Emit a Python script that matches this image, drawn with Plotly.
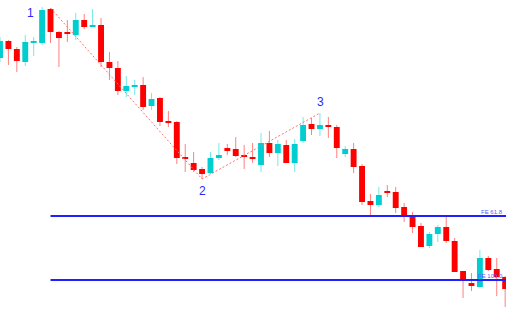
import plotly.graph_objects as go

# OHLC data (arbitrary price units)
opens  = [255, 272, 264, 251, 270, 270, 304, 281, 281, 278, 293, 286, 288, 251, 245, 222, 226, 228, 207, 215,
          192, 191, 156, 150, 144, 140, 155, 165, 164, 158, 156, 148, 170, 160, 168, 150, 172, 189, 184, 188,
          186, 159, 164, 147, 112, 108, 122, 121, 106, 97, 87, 67, 79, 86, 72, 42, 30, 26, 55, 44, 36]
highs  = [276, 273, 266, 278, 276, 306, 305, 282, 293, 300, 299, 304, 295, 261, 252, 237, 233, 236, 220, 216,
          202, 192, 169, 161, 146, 161, 170, 169, 176, 168, 170, 180, 182, 173, 173, 174, 196, 195, 200, 196,
          188, 167, 170, 149, 119, 126, 128, 126, 110, 101, 90, 81, 88, 96, 75, 42, 40, 63, 57, 55, 37]
lows   = [251, 248, 241, 247, 257, 268, 270, 246, 271, 273, 284, 286, 246, 233, 218, 216, 218, 203, 203, 187,
          186, 149, 141, 141, 134, 139, 153, 158, 156, 144, 150, 141, 156, 147, 150, 141, 170, 178, 177, 175,
          155, 156, 140, 108, 97, 106, 116, 100, 91, 80, 66, 65, 71, 70, 41, 15, 22, 26, 42, 17, 6]
closes = [272, 264, 252, 271, 272, 303, 281, 275, 279, 293, 286, 288, 251, 245, 222, 227, 228, 206, 214, 191,
          190, 155, 154, 143, 139, 155, 158, 162, 157, 156, 154, 170, 160, 169, 150, 169, 188, 184, 188, 186,
          165, 164, 146, 111, 108, 118, 120, 105, 97, 86, 66, 79, 86, 72, 41, 34, 27, 55, 43, 36, 24]

swing_x = [6, 24, 38]
swing_y = [305, 134, 200]
swing_labels = ["1", "2", "3"]

fe_levels = [97, 33]
fe_labels = ["FE 61.8", "FE 100.0"]

UP_BODY, DN_BODY = "#00cdd0", "#ff0000"
UP_WICK, DN_WICK = "#70eaea", "#ff8080"

idx = list(range(len(opens)))
X_MAX = 60.1

fig = go.Figure()

# wicks (upper and lower parts, so they do not cross the bodies)
for up, col in [(True, UP_WICK), (False, DN_WICK)]:
    wx, wy = [], []
    for i, o, h, l, c in zip(idx, opens, highs, lows, closes):
        if (c >= o) != up:
            continue
        top, bot = max(o, c), min(o, c)
        wx += [i, i, None, i, i, None]
        wy += [top, h, None, l, bot, None]
    fig.add_trace(go.Scatter(x=wx, y=wy, mode="lines", line=dict(color=col, width=1),
                             hoverinfo="skip"))

# bodies
fig.add_trace(go.Bar(
    x=idx,
    base=[min(o, c) for o, c in zip(opens, closes)],
    y=[abs(c - o) for o, c in zip(opens, closes)],
    width=0.7,
    marker=dict(color=[UP_BODY if c >= o else DN_BODY for o, c in zip(opens, closes)], line=dict(width=0)),
))

# swing dashed line 1-2-3
fig.add_trace(go.Scatter(x=swing_x, y=swing_y, mode="lines",
                         line=dict(color="#ff7070", width=1, dash="2px,2px")))

# FE levels
for lvl in fe_levels:
    fig.add_trace(go.Scatter(x=[swing_x[0], X_MAX], y=[lvl, lvl], mode="lines",
                             line=dict(color="#1f1fff", width=2)))

annotations = []
shifts = [(-20, -5), (0, -12), (1, 11)]
for x, y, t, (dx, dy) in zip(swing_x, swing_y, swing_labels, shifts):
    annotations.append(dict(x=x, y=y, text=t, showarrow=False, xshift=dx, yshift=dy,
                            font=dict(family="Liberation Sans, Arial", size=12, color="#2a2aff")))
for lvl, t in zip(fe_levels, fe_labels):
    annotations.append(dict(x=X_MAX, y=lvl, text=t, showarrow=False, xanchor="right", yanchor="bottom",
                            xshift=-1, yshift=-1,
                            font=dict(family="Liberation Sans, Arial", size=6, color="#5a5aff")))

fig.update_layout(
    width=529, height=313,
    margin=dict(l=0, r=23, t=0, b=0),
    paper_bgcolor="white", plot_bgcolor="white",
    showlegend=False, barmode="overlay",
    xaxis=dict(range=[0, X_MAX], visible=False, fixedrange=True),
    yaxis=dict(range=[0, 313], visible=False, fixedrange=True),
    annotations=annotations,
)

fig.write_html("out.html")
